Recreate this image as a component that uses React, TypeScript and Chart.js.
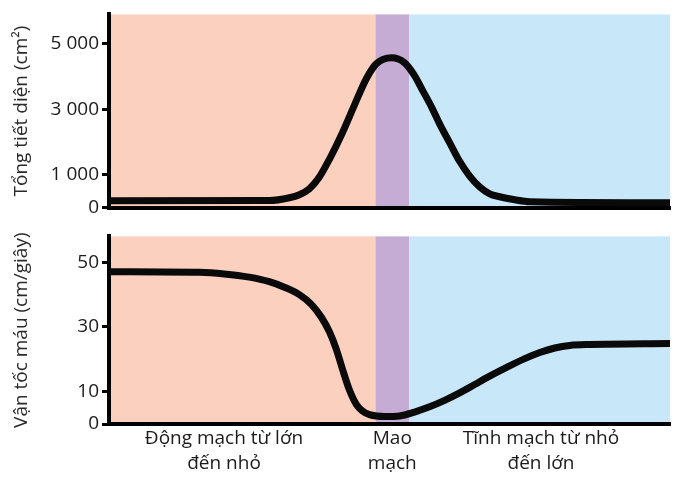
import React, { useEffect, useRef } from 'react';
import { Chart, registerables } from 'chart.js';

Chart.register(...registerables);

// Position along the vessel path (0 = largest arteries, 100 = largest veins)
const areaX = [0, 28.57, 32.14, 33.93, 35.71, 37.5, 39.29, 41.61, 43.75, 45.89, 47.68, 50.36, 52.68, 54.46, 55.89, 57.5, 58.93, 60.71, 62.5, 64.29, 66.07, 67.86, 69.64, 72.32, 75.0, 100];
const areaValues = [211, 215, 300, 391, 572, 933, 1475, 2288, 3130, 3943, 4395, 4575, 4425, 4033, 3582, 3070, 2558, 1986, 1414, 963, 632, 421, 331, 241, 181, 150];

const speedX = [0, 16.07, 20.54, 25.0, 28.57, 31.25, 33.93, 36.07, 37.86, 39.29, 40.54, 41.61, 42.86, 44.11, 45.18, 46.43, 49.11, 51.79, 54.46, 57.14, 59.82, 62.5, 65.18, 67.86, 70.89, 74.11, 76.79, 79.46, 82.14, 85.71, 100];
const speedValues = [47.1, 46.9, 46.4, 45.4, 44.0, 42.3, 40.0, 37.0, 33.0, 28.5, 23.0, 17.0, 10.5, 6.0, 4.0, 2.9, 2.3, 2.5, 3.7, 5.3, 7.3, 9.6, 12.2, 14.8, 17.5, 20.2, 22.1, 23.5, 24.3, 24.6, 24.9];

const areaTicks = [0, 1000, 3000, 5000];
const speedTicks = [0, 10, 30, 50];
const areaMax = 5900;
const speedMax = 58;

const regionBounds = [0, 47.5, 53.5, 100];
const regionColors = ['#fbd0bf', '#c4acd4', '#c8e7f8'];

const categoryLabels = [
  ['Động mạch từ lớn', 'đến nhỏ'],
  ['Mao', 'mạch'],
  ['Tĩnh mạch từ nhỏ', 'đến lớn'],
];
const categoryPositions = [20.5, 50.5, 77];

const areaTitle = 'Tổng tiết diện (cm²)';
const speedTitle = 'Vận tốc máu (cm/giây)';

const FONT = '"Open Sans", Lato, sans-serif';
const TEXT = '#1c1a1b';

const fmt = (v: number) => String(v).replace(/\B(?=(\d{3})+(?!\d))/g, ' ');

const regionsPlugin = {
  id: 'regions',
  beforeDraw(chart: any) {
    const { ctx, chartArea, scales } = chart;
    const xs = scales.x;
    ctx.save();
    for (let i = 0; i < regionColors.length; i++) {
      const x1 = xs.getPixelForValue(regionBounds[i]);
      const x2 = xs.getPixelForValue(regionBounds[i + 1]);
      ctx.fillStyle = regionColors[i];
      ctx.fillRect(x1, chartArea.top, x2 - x1, chartArea.bottom - chartArea.top);
    }
    ctx.restore();
  },
};

function makeConfig(xs: number[], ys: number[], yMax: number, yTicks: number[], title: string, withCategories: boolean): any {
  return {
    type: 'line',
    data: {
      datasets: [
        {
          data: xs.map((x, i) => ({ x, y: ys[i] })),
          borderColor: '#0a0a0a',
          borderWidth: 7,
          pointRadius: 0,
          cubicInterpolationMode: 'monotone',
          fill: false,
        },
      ],
    },
    options: {
      responsive: false,
      animation: false,
      layout: { padding: { top: 13, right: 5, bottom: withCategories ? 0 : 13, left: 0 } },
      plugins: { legend: { display: false }, tooltip: { enabled: false } },
      scales: {
        x: {
          type: 'linear',
          min: 0,
          max: 100,
          grid: { display: false, drawTicks: false },
          border: { display: true, color: '#000', width: 4 },
          afterFit: (s: any) => {
            s.height = withCategories ? 53 : 0;
          },
          afterBuildTicks: (s: any) => {
            s.ticks = categoryPositions.map((v) => ({ value: v }));
          },
          ticks: {
            display: withCategories,
            autoSkip: false,
            maxRotation: 0,
            padding: 2,
            color: TEXT,
            font: { family: FONT, size: 19, lineHeight: 1.32 },
            callback: (_v: any, i: number) => categoryLabels[i],
          },
        },
        y: {
          type: 'linear',
          min: 0,
          max: yMax,
          afterFit: (s: any) => {
            s.width = 109;
          },
          afterBuildTicks: (s: any) => {
            s.ticks = yTicks.map((v) => ({ value: v }));
          },
          grid: {
            display: true,
            drawOnChartArea: false,
            drawTicks: true,
            tickLength: 7,
            tickWidth: 3,
            tickColor: '#000',
          },
          border: { display: true, color: '#000', width: 4 },
          ticks: {
            padding: 3,
            color: TEXT,
            font: { family: FONT, size: 19 },
            callback: (v: any) => fmt(v),
          },
          title: {
            display: true,
            text: title,
            color: '#2a2a2a',
            padding: { top: 10, bottom: 4 },
            font: { family: FONT, size: 19 },
          },
        },
      },
    },
    plugins: [regionsPlugin],
  };
}

export default function App() {
  const topRef = useRef<HTMLCanvasElement>(null);
  const bottomRef = useRef<HTMLCanvasElement>(null);

  useEffect(() => {
    const c1 = new Chart(topRef.current!, makeConfig(areaX, areaValues, areaMax, areaTicks, areaTitle, false));
    const c2 = new Chart(bottomRef.current!, makeConfig(speedX, speedValues, speedMax, speedTicks, speedTitle, true));
    return () => {
      c1.destroy();
      c2.destroy();
    };
  }, []);

  return (
    <div style={{ position: 'fixed', left: 0, top: 0, width: 675, height: 477, background: '#fff' }}>
      <canvas ref={topRef} width={675} height={222} style={{ position: 'absolute', left: 0, top: 0 }} />
      <canvas ref={bottomRef} width={675} height={255} style={{ position: 'absolute', left: 0, top: 222 }} />
    </div>
  );
}
